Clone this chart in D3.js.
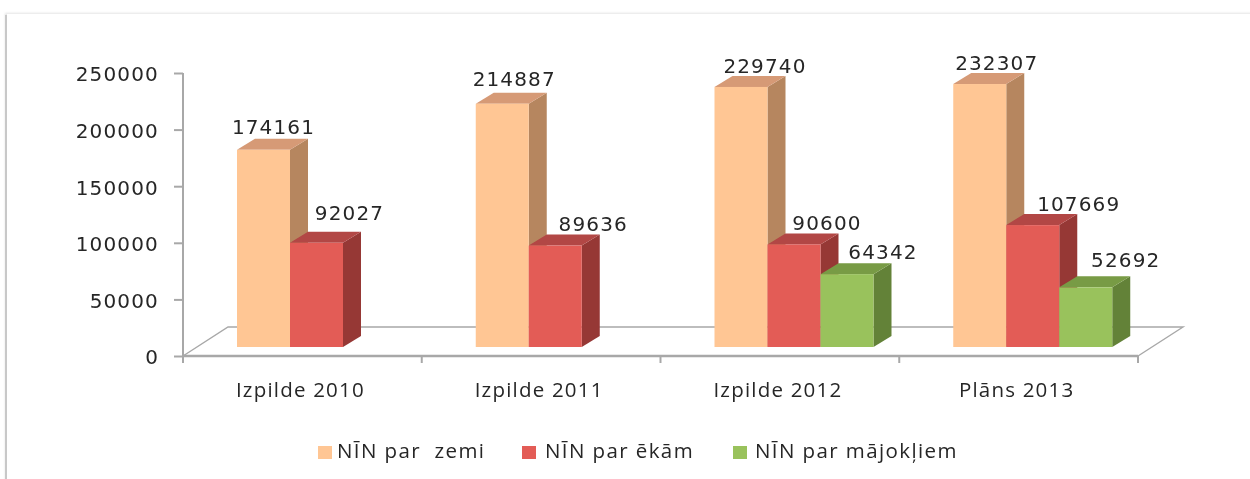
<!DOCTYPE html>
<html><head><meta charset="utf-8">
<script src="https://cdn.jsdelivr.net/npm/d3@7/dist/d3.min.js"></script>
<style>
html,body{margin:0;padding:0;background:#fff;overflow:hidden}
text{white-space:pre;fill:#262626}
.num{font-family:"DejaVu Sans";font-size:20px;letter-spacing:1.15px}
.cat{font-family:"Open Sans";font-size:20.5px;letter-spacing:1.2px}
.leg{font-family:"Open Sans";font-size:20.5px;letter-spacing:1.4px}
</style></head><body>
<svg id="c" width="1250" height="479"></svg>
<script>
const categories = ["Izpilde 2010","Izpilde 2011","Izpilde 2012","Plāns 2013"];
const seriesNames = ["NĪN par  zemi","NĪN par ēkām","NĪN par mājokļiem"];
const zemi = [174161,214887,229740,232307];
const ekam = [92027,89636,90600,107669];
const majokliem = [null,null,64342,52692];
const tickValues = [0,50000,100000,150000,200000,250000];
const seriesValues = [zemi,ekam,majokliem];
const frontColors = ["#FFC694","#E35B57","#99C25C"];
const sideColors = ["#B6865F","#963735","#648239"];
const topColors = ["#D69A76","#B24644","#789B45"];
// hand-placed label offsets from the top-front edge of each bar [dx,dy] per series/category
const labelDx = [[10,12,24,17],[33,38,33,46],[0,0,36,40]];
const labelDy = [[-23,-25,-21,-21],[-30,-22,-21,-21],[0,0,-22,-27]];

const svg = d3.select("#c");
const defs = svg.append("defs");
defs.append("filter").attr("id","soft").append("feGaussianBlur").attr("stdDeviation",0.45);
const shade = defs.append("filter").attr("id","edge").attr("x","-5%").attr("y","-5%").attr("width","110%").attr("height","110%");
shade.append("feGaussianBlur").attr("stdDeviation",1);

// page frame
svg.append("rect").attr("width",1250).attr("height",479).attr("fill","#fff");
svg.append("rect").attr("x",5).attr("y",13).attr("width",1260).attr("height",480).attr("fill","#e4e4e4").attr("filter","url(#edge)");
svg.append("rect").attr("x",5).attr("y",15).attr("width",2).attr("height",464).attr("fill","#c8c8c8");
svg.append("rect").attr("x",7).attr("y",14).attr("width",1250).attr("height",470).attr("fill","#fff");

const axisX0=183, axisX1=1138, axisBottom=356, axisTop=73, depthX=45, depthY=-29;
const barDepthX=18, barDepthY=-11, barBase=347;
const x0 = d3.scaleBand().domain(categories).range([axisX0,axisX1]);
const x1 = d3.scaleBand().domain(seriesNames).range([54,213]);
const yAxisScale = d3.scaleLinear().domain([0,250000]).range([axisBottom,axisTop]);
const yBar = d3.scaleLinear().domain([0,250000]).range([barBase,barBase-(axisBottom-axisTop)]);

const chart = svg.append("g").attr("filter","url(#soft)");
const gray="#A8A8A8";
// floor
chart.append("path")
  .attr("d",d3.line()([[axisX0,axisBottom],[axisX0+depthX,axisBottom+depthY],[axisX1+depthX,axisBottom+depthY],[axisX1,axisBottom]]))
  .attr("fill","none").attr("stroke",gray).attr("stroke-width",1.4);

// axes
const yG = chart.append("g").attr("transform",`translate(${axisX0},0)`)
  .call(d3.axisLeft(yAxisScale).tickValues(tickValues).tickSize(9).tickPadding(15).tickFormat(d3.format("d")));
yG.selectAll("path,line").attr("stroke",gray).attr("stroke-width",2);
yG.select("path").attr("d",`M0,${axisTop}V${axisBottom}`);
yG.selectAll("text").attr("class","num").attr("y",1.5);
yG.attr("font-family",null).attr("font-size",null);

const xG = chart.append("g").attr("transform",`translate(0,${axisBottom})`)
  .call(d3.axisBottom(x0).tickSize(0).tickPadding(26));
xG.attr("font-family",null).attr("font-size",null);
xG.select("path").attr("d",`M${axisX0},0H${axisX1}`).attr("stroke",gray).attr("stroke-width",2.4);
xG.selectAll("text").attr("class","cat").attr("dx",-2);
xG.selectAll("line.b").data([...categories.map(c=>x0(c)),axisX1]).enter().append("line").attr("class","b")
  .attr("x1",d=>d).attr("x2",d=>d).attr("y1",0).attr("y2",7).attr("stroke",gray).attr("stroke-width",2);

// bars
const bars=[];
categories.forEach((c,ci)=>seriesNames.forEach((s,si)=>{
  const v=seriesValues[si][ci];
  if(v!=null) bars.push({c,ci,s,si,v});
}));
const bar = chart.selectAll("g.bar").data(bars).enter().append("g").attr("class","bar");
const line=d3.line();
const bx=d=>x0(d.c)+x1(d.s), bw=x1.bandwidth();
bar.append("path").attr("fill",d=>sideColors[d.si]).attr("d",d=>{
  const r=bx(d)+bw,t=yBar(d.v);
  return line([[r,t],[r+barDepthX,t+barDepthY],[r+barDepthX,barBase+barDepthY],[r,barBase]])+"Z";});
bar.append("path").attr("fill",d=>topColors[d.si]).attr("d",d=>{
  const l=bx(d),t=yBar(d.v);
  return line([[l,t],[l+barDepthX,t+barDepthY],[l+bw+barDepthX,t+barDepthY],[l+bw,t]])+"Z";});
bar.append("rect").attr("fill",d=>frontColors[d.si])
  .attr("x",bx).attr("y",d=>yBar(d.v)).attr("width",bw).attr("height",d=>barBase-yBar(d.v));
chart.selectAll("text.val").data(bars).enter().append("text").attr("class","num val")
  .attr("text-anchor","middle").attr("dominant-baseline","central")
  .attr("x",d=>bx(d)+bw/2+labelDx[d.si][d.ci])
  .attr("y",d=>yBar(d.v)+labelDy[d.si][d.ci])
  .text(d=>d.v);

// legend
const legendX=[318,522,733], legendTextX=[337,545,755];
const lg=chart.selectAll("g.lg").data(seriesNames).enter().append("g").attr("class","lg");
lg.append("rect").attr("x",(d,i)=>legendX[i]).attr("y",446).attr("width",14).attr("height",13).attr("fill",(d,i)=>frontColors[i]);
lg.append("text").attr("class","leg").attr("x",(d,i)=>legendTextX[i]).attr("y",458).text(d=>d);
</script></body></html>
